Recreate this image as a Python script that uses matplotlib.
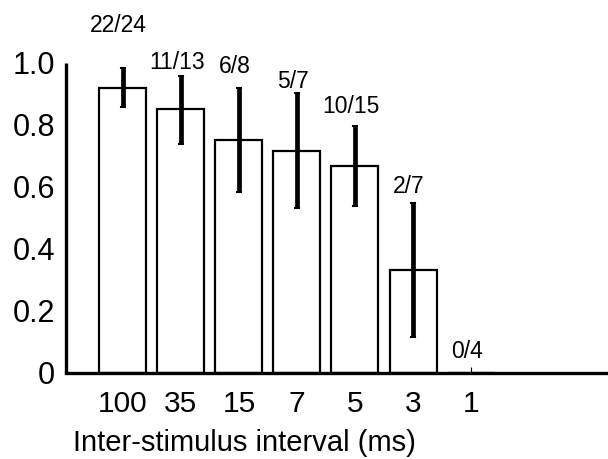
import matplotlib.pyplot as plt
import matplotlib.transforms as mtransforms

# datos
intervalos = ["100", "35", "15", "7", "5", "3", "1"]
fracciones = ["22/24", "11/13", "6/8", "5/7", "10/15", "2/7", "0/4"]
proporcion = [0.919, 0.850, 0.750, 0.716, 0.668, 0.332, 0.0]
err_sup = [0.984, 0.958, 0.919, 0.903, 0.797, 0.548, None]
err_inf = [0.858, 0.739, 0.584, 0.532, 0.539, 0.116, None]
# altura del texto de cada fraccion
texto_y = [1.12, 1.003, 0.99, 0.94, 0.86, 0.60, 0.07]

plt.rcParams['font.family'] = ['Liberation Sans', 'DejaVu Sans']

fig = plt.figure(figsize=(6.08, 4.59), dpi=100)
ax = fig.add_axes([66 / 608, 86 / 459, 542 / 608, 373 / 459])

x = list(range(len(intervalos)))
ax.bar(x, proporcion, width=0.81, color='white', edgecolor='black', linewidth=1.6, zorder=2)

for i in x:
    if err_sup[i] is None:
        continue
    ax.plot([i, i], [err_inf[i], err_sup[i]], color='black', linewidth=3.4, zorder=3,
            solid_capstyle='butt')
    ax.plot([i - 0.04, i + 0.04], [err_sup[i], err_sup[i]], color='black', linewidth=1.5, zorder=3)
    ax.plot([i - 0.04, i + 0.04], [err_inf[i], err_inf[i]], color='black', linewidth=1.5, zorder=3)

for i in x:
    ax.text(i - 0.07, texto_y[i], fracciones[i], ha='center', va='center', fontsize=16.5)

ax.set_xlim(-0.98, 8.36)
ax.set_ylim(0, 1.203)

ax.set_yticks([0, 0.2, 0.4, 0.6, 0.8, 1.0])
ax.set_yticklabels(['0', '0.2', '0.4', '0.6', '0.8', '1.0'], fontsize=22)
# etiquetas un poco por debajo de la marca, como en el original
desplazar = mtransforms.ScaledTranslation(0, -4 / 100, fig.dpi_scale_trans)
for t in ax.get_yticklabels():
    t.set_transform(t.get_transform() + desplazar)
ax.tick_params(axis='y', length=0, pad=8)

ax.set_xticks(x)
ax.set_xticklabels(intervalos, fontsize=21.5)
ax.tick_params(axis='x', direction='in', length=4, width=0.8, pad=12)

ax.set_xlabel("Inter-stimulus interval (ms)", fontsize=21, labelpad=8, x=0.013, ha='left')

for lado in ['top', 'right']:
    ax.spines[lado].set_visible(False)
ax.spines['left'].set_linewidth(2.4)
ax.spines['bottom'].set_linewidth(2.4)
ax.spines['left'].set_bounds(0, 1.0)
ax.spines['left'].set_capstyle('butt')

fig.savefig("out.png", dpi=100)
